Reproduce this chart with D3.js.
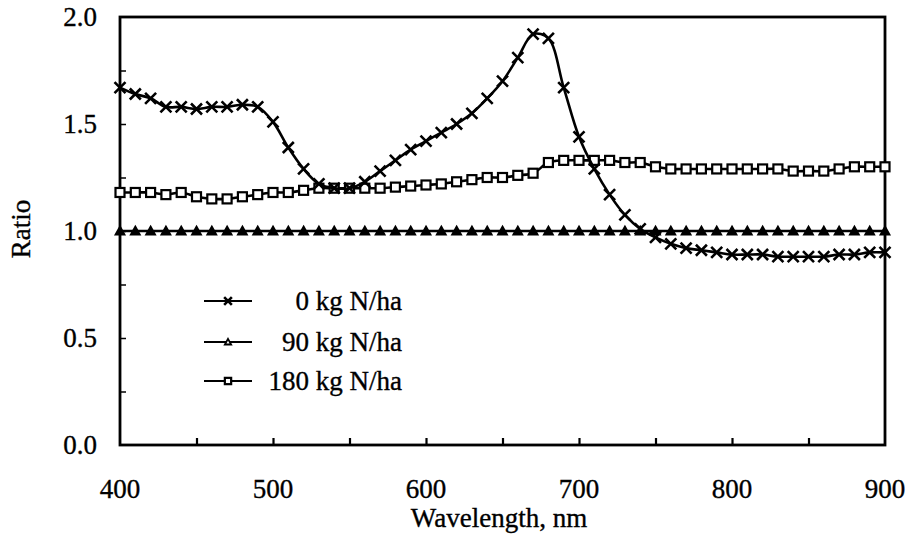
<!DOCTYPE html>
<html>
<head>
<meta charset="utf-8">
<script src="https://cdn.jsdelivr.net/npm/d3@7"></script>
<style>
  body { margin: 0; background: #fff; }
  text { font-family: "Liberation Serif", "Times New Roman", serif; fill: #000; stroke: #000; stroke-width: 0.35; }
</style>
</head>
<body>
<div id="chart"></div>
<script>
(function(){
  // wavelengths, nm (every 10 nm)
  const wavelengths = d3.range(400, 901, 10);

  // 0 kg N/ha relative to 90 kg N/ha
  const ratio0 = [
    1.67, 1.64, 1.62, 1.58, 1.58, 1.57, 1.58, 1.58, 1.59, 1.58,
    1.51, 1.39, 1.29, 1.22, 1.20, 1.20, 1.23, 1.28, 1.33, 1.38,
    1.42, 1.46, 1.50, 1.55, 1.62, 1.70, 1.81, 1.92, 1.90, 1.67,
    1.44, 1.29, 1.17, 1.075, 1.01, 0.97, 0.94, 0.92, 0.91, 0.90,
    0.89, 0.89, 0.89, 0.88, 0.88, 0.88, 0.88, 0.89, 0.89, 0.90,
    0.90
  ];
  // 90 kg N/ha (reference)
  const ratio90 = wavelengths.map(() => 1.0);
  // 180 kg N/ha
  const ratio180 = [
    1.18, 1.18, 1.18, 1.17, 1.18, 1.16, 1.15, 1.15, 1.16, 1.17,
    1.18, 1.18, 1.19, 1.20, 1.20, 1.20, 1.20, 1.20, 1.205, 1.21,
    1.215, 1.22, 1.23, 1.24, 1.25, 1.25, 1.26, 1.27, 1.32, 1.33,
    1.33, 1.33, 1.33, 1.32, 1.32, 1.30, 1.29, 1.29, 1.29, 1.29,
    1.29, 1.29, 1.29, 1.29, 1.28, 1.28, 1.28, 1.29, 1.30, 1.30,
    1.30
  ];

  const seriesNames = ["0 kg N/ha", "90 kg N/ha", "180 kg N/ha"];
  const seriesValues = [ratio0, ratio90, ratio180];
  const seriesMarkers = ["cross", "triangle", "square"];

  const xTickLabels = [400, 500, 600, 700, 800, 900];
  const yTickLabels = [0.0, 0.5, 1.0, 1.5, 2.0];

  const width = 908, height = 544;
  const margin = { left: 120, right: 23, top: 17, bottom: 99 };
  const fontSize = 27;

  const svg = d3.select("#chart").append("svg")
    .attr("width", width)
    .attr("height", height);

  const x = d3.scaleLinear().domain([400, 900]).range([margin.left, width - margin.right]);
  const y = d3.scaleLinear().domain([0, 2]).range([height - margin.bottom, margin.top]);

  // x axis: inward minor ticks every 50 nm
  const xAxis = svg.append("g")
    .attr("transform", `translate(0,${y(0)})`)
    .call(d3.axisBottom(x).tickValues(d3.range(450, 900, 50)).tickSize(-7).tickFormat(""));
  xAxis.select(".domain").remove();
  xAxis.selectAll("line").attr("stroke", "#000").attr("stroke-width", 2.2);

  svg.append("g").selectAll("text")
    .data(xTickLabels)
    .join("text")
    .attr("x", d => x(d))
    .attr("y", 498)
    .attr("text-anchor", "middle")
    .attr("font-size", fontSize)
    .text(d => d);

  // y axis: inward ticks every 0.25
  const yAxis = svg.append("g")
    .attr("transform", `translate(${x(400)},0)`)
    .call(d3.axisLeft(y).tickValues(d3.range(0.25, 2, 0.25)).tickSize(-6).tickFormat(""));
  yAxis.select(".domain").remove();
  yAxis.selectAll("line").attr("stroke", "#000").attr("stroke-width", 1.5);

  svg.append("g").selectAll("text")
    .data(yTickLabels)
    .join("text")
    .attr("x", 97)
    .attr("y", d => y(d))
    .attr("dy", "0.35em")
    .attr("text-anchor", "end")
    .attr("font-size", fontSize)
    .text(d => d.toFixed(1));

  // frame
  svg.append("rect")
    .attr("x", x(400))
    .attr("y", y(2))
    .attr("width", x(900) - x(400))
    .attr("height", y(0) - y(2))
    .attr("fill", "none")
    .attr("stroke", "#000")
    .attr("stroke-width", 2.8);

  // axis titles
  svg.append("text")
    .attr("x", 499)
    .attr("y", 527)
    .attr("text-anchor", "middle")
    .attr("font-size", fontSize)
    .text("Wavelength, nm");

  svg.append("text")
    .attr("transform", `translate(30,${y(1) - 2}) rotate(-90)`)
    .attr("text-anchor", "middle")
    .attr("font-size", fontSize)
    .text("Ratio");

  // marker drawing
  function drawMarker(g, type, cx, cy, small) {
    const k = small ? 0.7 : 1;
    if (type === "cross") {
      const s = 5.5 * k;
      g.append("path")
        .attr("d", `M${cx - s},${cy - s}L${cx + s},${cy + s}M${cx - s},${cy + s}L${cx + s},${cy - s}`)
        .attr("stroke", "#000").attr("stroke-width", 2.6).attr("fill", "none");
    } else if (type === "triangle") {
      const s = 4.5 * k;
      g.append("path")
        .attr("d", `M${cx},${cy - s}L${cx + s},${cy + s * 0.8}L${cx - s},${cy + s * 0.8}Z`)
        .attr("stroke", "#000").attr("stroke-width", 1.8)
        .attr("fill", small ? "#fff" : "#000");
    } else {
      const s = 4.5 * k;
      g.append("rect")
        .attr("x", cx - s).attr("y", cy - s)
        .attr("width", 2 * s).attr("height", 2 * s)
        .attr("stroke", "#000").attr("stroke-width", 2.2).attr("fill", "#fff");
    }
  }

  const line = d3.line()
    .x(d => x(d[0]))
    .y(d => y(d[1]))
    .curve(d3.curveCatmullRom.alpha(0.5));

  // draw order: 90, 180, 0 so crosses lie on top
  [1, 2, 0].forEach(i => {
    const pts = wavelengths.map((w, j) => [w, seriesValues[i][j]]);
    const g = svg.append("g");
    g.append("path")
      .datum(pts)
      .attr("d", line)
      .attr("fill", "none")
      .attr("stroke", "#000")
      .attr("stroke-width", 2.6);
    pts.forEach(p => drawMarker(g, seriesMarkers[i], x(p[0]), y(p[1]), false));
  });

  // legend
  const legendRows = [301, 342, 381];
  const legend = svg.append("g");
  seriesNames.forEach((name, i) => {
    const ly = legendRows[i];
    legend.append("line")
      .attr("x1", 204).attr("x2", 252)
      .attr("y1", ly).attr("y2", ly)
      .attr("stroke", "#000").attr("stroke-width", 2);
    drawMarker(legend, seriesMarkers[i], 228, ly, true);
    legend.append("text")
      .attr("x", 402)
      .attr("y", ly)
      .attr("dy", "0.33em")
      .attr("text-anchor", "end")
      .attr("font-size", fontSize)
      .text(name);
  });
})();
</script>
</body>
</html>
